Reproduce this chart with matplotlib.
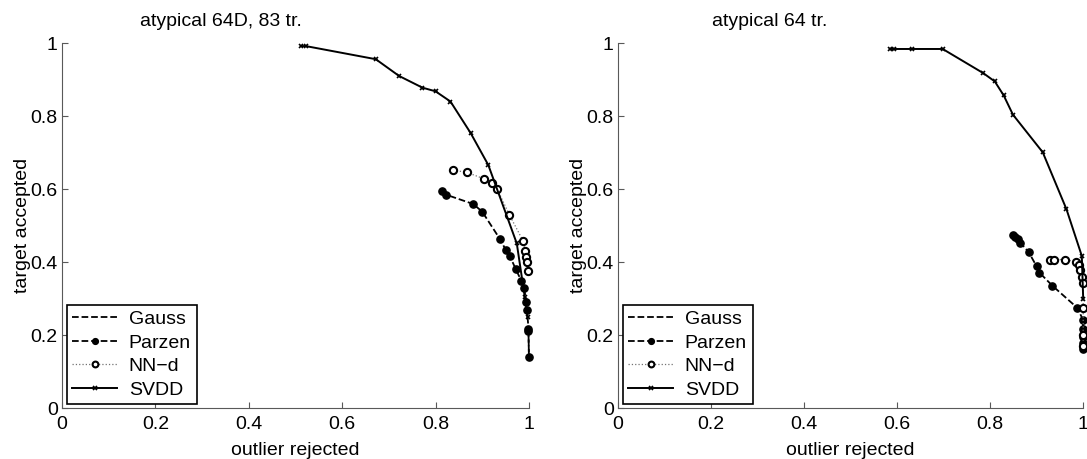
import matplotlib
matplotlib.use('Agg')
import matplotlib.pyplot as plt

plt.rcParams['font.family'] = 'Liberation Sans'
plt.rcParams['font.size'] = 14

# left panel: atypical 64D, 83 tr.
svdd_x1 = [0.512, 0.522, 0.672, 0.722, 0.772, 0.800, 0.832, 0.875, 0.913, 0.974, 0.991, 0.997]
svdd_y1 = [0.992, 0.992, 0.956, 0.910, 0.878, 0.868, 0.840, 0.754, 0.666, 0.451, 0.305, 0.250]
nnd_x1 = [0.838, 0.867, 0.904, 0.920, 0.932, 0.958, 0.987, 0.992, 0.993, 0.996, 0.997]
nnd_y1 = [0.652, 0.646, 0.628, 0.618, 0.600, 0.530, 0.459, 0.431, 0.415, 0.399, 0.376]
parzen_x1 = [0.814, 0.822, 0.881, 0.900, 0.938, 0.951, 0.959, 0.972, 0.984, 0.990,
             0.994, 0.996, 0.999, 0.999, 1.000]
parzen_y1 = [0.596, 0.585, 0.559, 0.538, 0.463, 0.432, 0.417, 0.380, 0.348, 0.328,
             0.290, 0.268, 0.218, 0.210, 0.141]
gauss_x1 = [0.999, 1.000]
gauss_y1 = [0.214, 0.141]

# right panel: atypical 64 tr.
svdd_x2 = [0.585, 0.593, 0.633, 0.698, 0.785, 0.810, 0.829, 0.849, 0.913, 0.964, 0.997, 1.000]
svdd_y2 = [0.984, 0.984, 0.984, 0.984, 0.918, 0.895, 0.857, 0.804, 0.701, 0.545, 0.417, 0.300]
nnd_x2 = [0.928, 0.938, 0.960, 0.985, 0.990, 0.994, 0.998, 1.000, 1.000, 1.000, 1.000]
nnd_y2 = [0.407, 0.407, 0.407, 0.401, 0.392, 0.378, 0.360, 0.342, 0.275, 0.200, 0.170]
parzen_x2 = [0.849, 0.854, 0.859, 0.865, 0.883, 0.900, 0.906, 0.934, 0.987, 1.000,
             1.000, 1.000, 1.000, 1.000]
parzen_y2 = [0.474, 0.469, 0.462, 0.453, 0.427, 0.388, 0.371, 0.335, 0.275, 0.241,
             0.218, 0.195, 0.177, 0.163]
gauss_x2 = [1.000, 1.000]
gauss_y2 = [0.241, 0.163]

titles = ['atypical 64D, 83 tr.', 'atypical 64 tr.']
title_x = [0.34, 0.327]
ticks = [0, 0.2, 0.4, 0.6, 0.8, 1]
tick_labels = ['0', '0.2', '0.4', '0.6', '0.8', '1']

fig = plt.figure(figsize=(10.87, 4.59), dpi=100)
ax1 = fig.add_axes([0.057, 0.111, 0.4296, 0.795])
ax2 = fig.add_axes([0.5685, 0.111, 0.428, 0.795])

panels = [
    (ax1, gauss_x1, gauss_y1, parzen_x1, parzen_y1, nnd_x1, nnd_y1, svdd_x1, svdd_y1),
    (ax2, gauss_x2, gauss_y2, parzen_x2, parzen_y2, nnd_x2, nnd_y2, svdd_x2, svdd_y2),
]

for i, (ax, gx, gy, px, py, nx, ny, sx, sy) in enumerate(panels):
    ax.plot(gx, gy, '--', color='k', lw=1.3, label='Gauss', clip_on=False)
    ax.plot(px, py, '--', color='k', lw=1.3, marker='o', ms=5.2,
            mfc='k', mec='k', label='Parzen', clip_on=False)
    ax.plot(nx, ny, ':', color='0.45', lw=0.9, marker='o', ms=5.2,
            mfc='white', mec='k', mew=1.5, label='NN\u2212d', clip_on=False)
    ax.plot(sx, sy, '-', color='k', lw=1.4, marker='x', ms=3.5, mew=1.2,
            label='SVDD', clip_on=False)

    ax.set_xlim(0, 1)
    ax.set_ylim(0, 1)
    ax.set_xticks(ticks)
    ax.set_xticklabels(tick_labels)
    ax.set_yticks(ticks)
    ax.set_yticklabels(tick_labels)
    ax.spines['top'].set_visible(False)
    ax.spines['right'].set_visible(False)
    ax.spines['left'].set_color('0.35')
    ax.spines['bottom'].set_color('0.35')
    ax.tick_params(direction='in', length=4, color='0.35', labelsize=14)
    ax.tick_params(axis='x', pad=6)
    ax.tick_params(axis='y', pad=3)
    ax.set_xlabel('outlier rejected', fontsize=14, labelpad=6)
    ax.set_ylabel('target accepted', fontsize=14, labelpad=0)
    ax.text(title_x[i], 1.035, titles[i], transform=ax.transAxes,
            ha='center', va='bottom', fontsize=14)

    leg = ax.legend(loc='lower left', bbox_to_anchor=(0.01, 0.01), fontsize=14,
                    frameon=True, fancybox=False, edgecolor='k', framealpha=1,
                    handlelength=2.3, handletextpad=0.6, borderpad=0.3,
                    labelspacing=0.3, borderaxespad=0, markerscale=0.8)
    leg.get_frame().set_linewidth(1.2)

fig.savefig('out.png', dpi=100)
